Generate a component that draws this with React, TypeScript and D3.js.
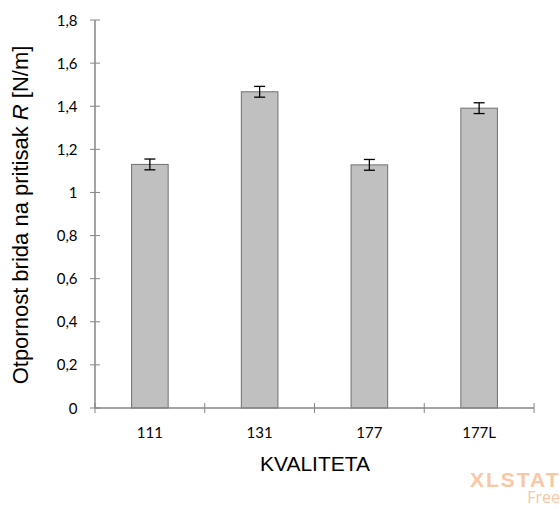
import React from "react";
import * as d3 from "d3";

const categories = ["111", "131", "177", "177L"];
const values = [1.13, 1.467, 1.128, 1.391];
const errors = [0.025, 0.025, 0.025, 0.025];
const yTicks = [0, 0.2, 0.4, 0.6, 0.8, 1, 1.2, 1.4, 1.6, 1.8];

export default function App() {
  const W = 560, H = 509;
  const x0 = 95, x1 = 534, yTop = 20, yBot = 408;
  const x = d3.scaleBand<string>().domain(categories).range([x0, x1]).paddingInner(0).paddingOuter(0);
  const y = d3.scaleLinear().domain([0, 1.8]).range([yBot, yTop]);
  const bw = x.bandwidth() / 3;
  const fmt = (v: number) => String(v).replace(".", ",");
  const axisColor = "#868686";
  const tickFont = "Lato, 'Open Sans', sans-serif";
  const boundaries = d3.range(categories.length + 1).map(i => x0 + i * x.bandwidth());
  return (
    <svg width={W} height={H} style={{ position: "absolute", left: 0, top: 0 }}>
      <rect width={W} height={H} fill="#fff" />
      {categories.map((c, i) => {
        const cx = (x(c) as number) + x.bandwidth() / 2;
        return (
          <g key={c}>
            <rect x={cx - bw / 2} y={y(values[i])} width={bw} height={yBot - y(values[i])} fill="#c0c0c0" stroke="#707070" strokeWidth={1} />
            <line x1={cx} x2={cx} y1={y(values[i] + errors[i])} y2={y(values[i] - errors[i])} stroke="#000" strokeWidth={1.3} />
            <line x1={cx - 5.5} x2={cx + 5.5} y1={y(values[i] + errors[i])} y2={y(values[i] + errors[i])} stroke="#000" strokeWidth={1.3} />
            <line x1={cx - 5.5} x2={cx + 5.5} y1={y(values[i] - errors[i])} y2={y(values[i] - errors[i])} stroke="#000" strokeWidth={1.3} />
            <text x={cx} y={437.7} textAnchor="middle" fontFamily={tickFont} fontSize={15} fill="#000">{c}</text>
          </g>
        );
      })}
      <line x1={x0} x2={x0} y1={yTop} y2={yBot} stroke={axisColor} strokeWidth={1.5} />
      <line x1={x0} x2={x1} y1={yBot} y2={yBot} stroke={axisColor} strokeWidth={1.5} />
      {yTicks.map(t => (
        <g key={t}>
          <line x1={x0 - 5} x2={x0 + 5} y1={y(t)} y2={y(t)} stroke={axisColor} strokeWidth={1} />
          <text x={77.5} y={y(t) + 5.6} textAnchor="end" fontFamily={tickFont} fontSize={15} fill="#000">{fmt(t)}</text>
        </g>
      ))}
      {boundaries.map((b, i) => (
        <line key={i} x1={b} x2={b} y1={yBot - 5} y2={yBot + 5} stroke={axisColor} strokeWidth={1} />
      ))}
      <text x={315} y={471} textAnchor="middle" fontFamily="'Liberation Sans', Arial, sans-serif" fontSize={21} fill="#000">KVALITETA</text>
      <text transform={`translate(28,${215}) rotate(-90)`} textAnchor="middle" fontFamily="'Liberation Sans', Arial, sans-serif" fontSize={22} fill="#000">
        Otpornost brida na pritisak <tspan fontStyle="italic">R</tspan> [N/m]
      </text>
      <text x={470} y={486.7} fontFamily="'Liberation Sans', Arial, sans-serif" fontWeight="bold" fontSize={21} letterSpacing={2} fill="#fbc6a3">XLSTAT</text>
      <text x={560} y={503.3} textAnchor="end" fontFamily="'Open Sans', sans-serif" fontSize={16} fill="#fbc6a3">Free</text>
    </svg>
  );
}
